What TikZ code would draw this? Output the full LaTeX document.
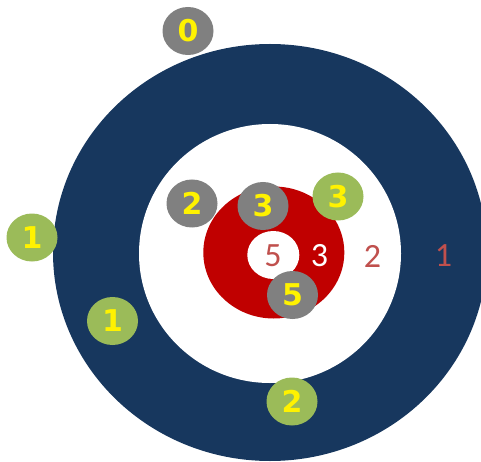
\documentclass[tikz,border=0pt]{standalone}
\usepackage{fontspec}
\setmainfont{Carlito}
\newfontfamily\stonefont{DejaVu Sans}
\usetikzlibrary{shapes.geometric}
\definecolor{houseblue}{HTML}{17375E}
\definecolor{buttonred}{HTML}{C00000}
\definecolor{ringred}{HTML}{C0504D}
\definecolor{stonegrey}{HTML}{808080}
\definecolor{stonegreen}{HTML}{9BBB59}
\begin{document}
\begin{tikzpicture}[x=1pt, y=-1pt,
  stone/.style={ellipse, minimum width=51pt, minimum height=48pt, inner sep=0pt,
    text=yellow, font=\stonefont\bfseries\fontsize{30}{30}\selectfont},
  grey stone/.style={stone, fill=stonegrey},
  green stone/.style={stone, fill=stonegreen},
  ringnum/.style={inner sep=0pt, font=\fontsize{34}{34}\selectfont}]
  \useasboundingbox (0,0) rectangle (481,462);
  \clip (0,0) rectangle (481,462);
  % the house
  \fill[houseblue] (270,252.5) ellipse [x radius=217, y radius=208.5];
  \fill[white] (270,253.5) ellipse [x radius=131, y radius=129.5];
  \fill[buttonred] (273.8,252.5) ellipse [x radius=70.5, y radius=66];
  \fill[white] (273.3,255) ellipse [x radius=26, y radius=24];
  % ring scores
  \node[ringnum, ringred] (ring5) at (273,256) {5};
  \node[ringnum, white] (ring3) at (319.5,256) {3};
  \node[ringnum, ringred] (ring2) at (372.5,256) {2};
  \node[ringnum, ringred] (ring1) at (443.5,256) {1};
  % stones
  \foreach \x/\y/\num/\name in {188/31/0/grey0, 192/203.5/2/grey2,
      263/206/3/grey3, 292.5/295/5/grey5}{
    \node[grey stone] (\name) at (\x,\y) {\num};
  }
  \foreach \x/\y/\num/\name in {32/237.5/1/green1a, 112.5/321/1/green1b,
      338/196.5/3/green3, 292/401.5/2/green2}{
    \node[green stone] (\name) at (\x,\y) {\num};
  }
\end{tikzpicture}
\end{document}
